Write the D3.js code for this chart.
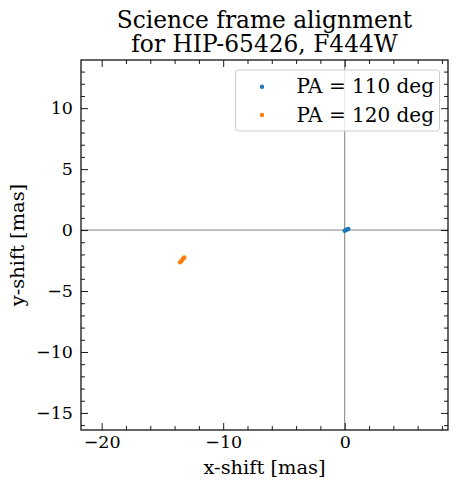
<!DOCTYPE html>
<html lang="en">
<head>
<meta charset="UTF-8">
<title>Science frame alignment</title>
<script src="https://cdn.jsdelivr.net/npm/d3@7"></script>
<style>
  body { margin: 0; background: #fff; }
  svg text { font-family: "DejaVu Serif", serif; fill: #000; }
</style>
</head>
<body>
<div id="chart"></div>
<script>
// data (mas)
var series = ["PA = 110 deg", "PA = 120 deg"];
var colors = ["#1f77b4", "#ff7f0e"];
var xs110 = [0.0, 0.1, 0.2, 0.3];
var ys110 = [-0.05, 0.0, 0.05, 0.1];
var xs120 = [-13.55, -13.45, -13.35, -13.25, -13.2];
var ys120 = [-2.65, -2.55, -2.4, -2.3, -2.25];
var xTicks = [-20, -10, 0];
var yTicks = [-15, -10, -5, 0, 5, 10];

var W = 459, H = 486;
var pL = 81, pR = 448, pT = 60, pB = 430;
var serif = "DejaVu Serif, serif";

var svg = d3.select("#chart").append("svg")
    .attr("width", W).attr("height", H);

var x = d3.scaleLinear().domain([-21.7, 8.5]).range([pL, pR]);
var y = d3.scaleLinear().domain([-16.4, 13.95]).range([pB, pT]);

// reference lines through the origin
svg.append("line")
    .attr("x1", x(0)).attr("x2", x(0)).attr("y1", pT).attr("y2", pB)
    .style("stroke", "#808080").style("stroke-width", 1);
svg.append("line")
    .attr("x1", pL).attr("x2", pR).attr("y1", y(0)).attr("y2", y(0))
    .style("stroke", "#808080").style("stroke-width", 1);

// points
var groups = [
    xs110.map(function(d, i) { return {x: d, y: ys110[i]}; }),
    xs120.map(function(d, i) { return {x: d, y: ys120[i]}; })
];
groups.forEach(function(g, k) {
    svg.selectAll(".p" + k).data(g).enter().append("circle")
        .attr("class", "p" + k)
        .attr("cx", function(d) { return x(d.x); })
        .attr("cy", function(d) { return y(d.y); })
        .attr("r", 2.2)
        .style("fill", colors[k]);
});

// axes, ticks pointing inward on all four sides
var xMinor = d3.range(-20, 9, 2).filter(function(v) { return v % 10 != 0; });
var yMinor = d3.range(-16, 14, 1).filter(function(v) { return v % 5 != 0; });
var fmt = function(d) { return d < 0 ? "\u2212" + (-d) : d; };

var gB = svg.append("g").attr("transform", "translate(0," + pB + ")");
gB.call(d3.axisBottom(x).tickValues(xTicks).tickSizeInner(-7).tickSizeOuter(0)
    .tickPadding(6).tickFormat(fmt));
gB.append("g").call(d3.axisBottom(x).tickValues(xMinor)
    .tickSizeInner(-4).tickSizeOuter(0).tickFormat(""));

var gT = svg.append("g").attr("transform", "translate(0," + pT + ")");
gT.call(d3.axisTop(x).tickValues(xTicks).tickSizeInner(-7).tickSizeOuter(0).tickFormat(""));
gT.append("g").call(d3.axisTop(x).tickValues(xMinor)
    .tickSizeInner(-4).tickSizeOuter(0).tickFormat(""));

var gL = svg.append("g").attr("transform", "translate(" + pL + ",0)");
gL.call(d3.axisLeft(y).tickValues(yTicks).tickSizeInner(-7).tickSizeOuter(0)
    .tickPadding(8).tickFormat(fmt));
gL.append("g").call(d3.axisLeft(y).tickValues(yMinor)
    .tickSizeInner(-4).tickSizeOuter(0).tickFormat(""));

var gR = svg.append("g").attr("transform", "translate(" + pR + ",0)");
gR.call(d3.axisRight(y).tickValues(yTicks).tickSizeInner(-7).tickSizeOuter(0).tickFormat(""));
gR.append("g").call(d3.axisRight(y).tickValues(yMinor)
    .tickSizeInner(-4).tickSizeOuter(0).tickFormat(""));

svg.selectAll(".domain").remove();
svg.selectAll("g").attr("font-family", serif);
svg.selectAll(".tick line").style("stroke", "#000").style("stroke-width", 0.9);
svg.selectAll(".tick text").style("font-size", "17.5px");

// frame
svg.append("rect")
    .attr("x", pL).attr("y", pT).attr("width", pR - pL).attr("height", pB - pT)
    .style("fill", "none").style("stroke", "#000").style("stroke-width", 1.2);

// legend
var lg = svg.append("g");
lg.append("rect")
    .attr("x", 235.5).attr("y", 70).attr("width", 204).attr("height", 61)
    .attr("rx", 3)
    .style("fill", "rgba(255,255,255,0.8)").style("stroke", "#cccccc");
series.forEach(function(s, i) {
    var yy = 86.7 + i * 28.3;
    lg.append("circle").attr("cx", 262).attr("cy", yy).attr("r", 2.2).style("fill", colors[i]);
    lg.append("text").attr("x", 296.5).attr("y", yy + 6.5)
        .style("font-size", "20px").text(s);
});

// title and labels
svg.append("text").attr("x", (pL + pR) / 2).attr("y", 27.5)
    .attr("text-anchor", "middle").style("font-size", "23.3px").text("Science frame alignment");
svg.append("text").attr("x", (pL + pR) / 2).attr("y", 52)
    .attr("text-anchor", "middle").style("font-size", "23.3px").text("for HIP-65426, F444W");
svg.append("text").attr("x", (pL + pR) / 2).attr("y", 474)
    .attr("text-anchor", "middle").style("font-size", "19.4px").text("x-shift [mas]");
svg.append("text").attr("transform", "translate(24," + (pT + pB) / 2 + ") rotate(-90)")
    .attr("text-anchor", "middle").style("font-size", "19.4px").text("y-shift [mas]");
</script>
</body>
</html>
